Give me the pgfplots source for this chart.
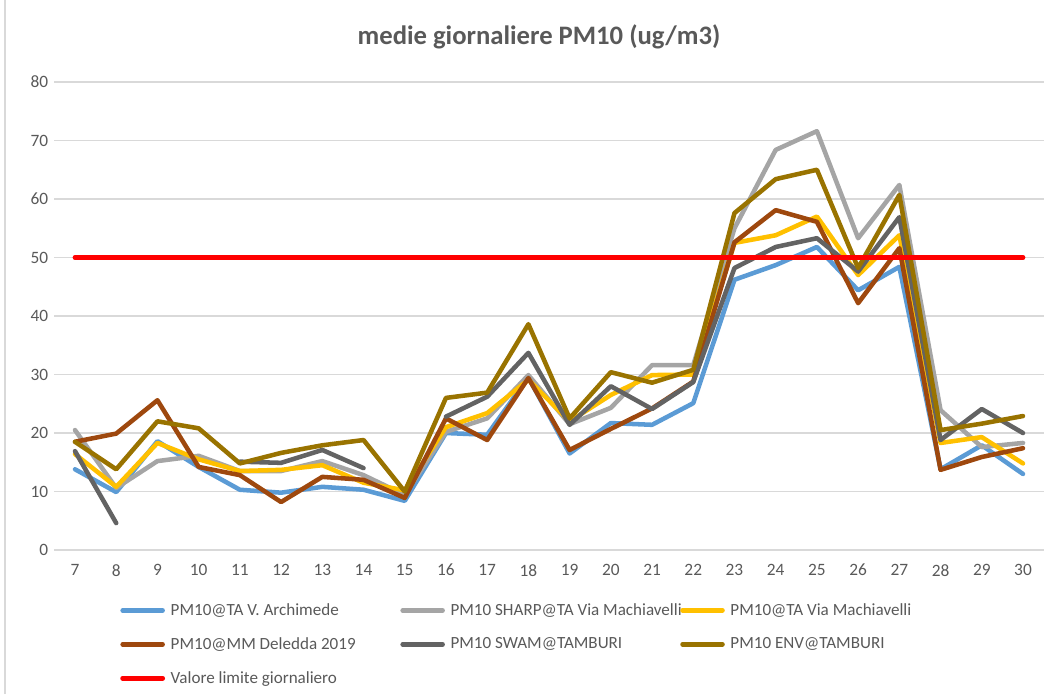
\documentclass[border=0pt]{standalone}
\usepackage{fontspec}
\setmainfont{Carlito}
\usepackage{pgfplots}
\pgfplotsset{compat=1.18}
\definecolor{txt}{HTML}{595959}
\definecolor{gridc}{HTML}{D9D9D9}
\definecolor{cblue}{HTML}{5B9BD5}
\definecolor{cgray}{HTML}{A5A5A5}
\definecolor{cyel}{HTML}{FFC000}
\definecolor{cbrown}{HTML}{9E480E}
\definecolor{cdgray}{HTML}{636363}
\definecolor{colive}{HTML}{997300}
\definecolor{cred}{HTML}{FF0000}
\begin{document}
\begin{tikzpicture}
\useasboundingbox (-40.8pt,-108pt) rectangle (748.95pt,412.5pt);
\draw[gridc, line width=0.8pt] (-37.05pt,-108pt) -- (-37.05pt,412.5pt);
\begin{axis}[
  at={(0,0)}, anchor=south west,
  scale only axis, width=741.9pt, height=351pt,
  xmin=6.5, xmax=30.5, ymin=0, ymax=80,
  xtick={7,...,30}, ytick={0,10,...,80},
  ymajorgrids, grid style={draw=gridc, line width=1pt},
  axis line style={draw=none},
  major tick length=0pt,
  /pgf/number format/assume math mode=true,
  ticklabel style={font=\fontsize{13}{15}\selectfont, text=txt},
  xticklabel style={anchor=north, inner sep=0pt, yshift=-10.5pt},
  yticklabel style={anchor=east, inner sep=0pt, xshift=-4.5pt},
  title={medie giornaliere PM10 (ug/m3)},
  title style={font=\fontsize{20}{24}\selectfont\bfseries, text=txt, at={(axis description cs:0.4899,1.079)}, anchor=center},
  unbounded coords=jump,
  every axis plot/.append style={line width=3.4pt, line join=round, line cap=round, mark=none},
  legend columns=3,
  legend image code/.code={\draw[#1] (0pt,0pt) -- (30pt,0pt);},
  legend style={draw=none, fill=none, at={(axis description cs:0.0663,-0.108)}, anchor=north west,
    inner sep=0pt, row sep=11pt, font=\fontsize{12.8}{14}\selectfont, text=txt,
    /tikz/every odd column/.append style={column sep=2.25pt}},
  legend cell align=left,
]
\addplot[cblue] coordinates {(7,13.8) (8,9.9) (9,18.6) (10,14.2) (11,10.3) (12,9.8) (13,10.8) (14,10.3) (15,8.4) (16,20.0) (17,19.7) (18,29.5) (19,16.5) (20,21.7) (21,21.4) (22,25.1) (23,46.2) (24,48.7) (25,51.8) (26,44.4) (27,48.4) (28,13.8) (29,17.9) (30,13.0)};
\addlegendentry{\makebox[170.25pt][l]{PM10@TA V. Archimede}}
\addplot[cgray] coordinates {(7,20.5) (8,10.6) (9,15.2) (10,16.1) (11,13.5) (12,13.5) (13,15.2) (14,12.8) (15,9.4) (16,20.2) (17,22.5) (18,29.9) (19,21.5) (20,24.3) (21,31.6) (22,31.6) (23,55.0) (24,68.4) (25,71.6) (26,53.3) (27,62.4) (28,23.9) (29,17.6) (30,18.3)};
\addlegendentry{\makebox[170.25pt][l]{PM10 SHARP@TA Via Machiavelli}}
\addplot[cyel] coordinates {(7,16.4) (8,10.8) (9,18.3) (10,15.5) (11,13.5) (12,13.7) (13,14.5) (14,11.5) (15,10.2) (16,21.0) (17,23.4) (18,29.1) (19,22.0) (20,26.5) (21,29.9) (22,30.0) (23,52.5) (24,53.8) (25,57.0) (26,47.0) (27,53.8) (28,18.3) (29,19.3) (30,14.8)};
\addlegendentry{PM10@TA Via Machiavelli}
\addplot[cbrown] coordinates {(7,18.5) (8,19.9) (9,25.6) (10,14.2) (11,12.8) (12,8.2) (13,12.5) (14,12.0) (15,8.9) (16,22.5) (17,18.8) (18,29.4) (19,17.1) (20,20.7) (21,24.2) (22,28.8) (23,52.6) (24,58.1) (25,56.1) (26,42.2) (27,51.6) (28,13.7) (29,15.9) (30,17.4)};
\addlegendentry{\makebox[170.25pt][l]{PM10@MM Deledda 2019}}
\addplot[cdgray] coordinates {(7,16.9) (8,4.6) (9,nan) (10,nan) (11,15.1) (12,14.9) (13,17.1) (14,14.0) (15,nan) (16,22.8) (17,26.2) (18,33.7) (19,21.4) (20,28.0) (21,24.1) (22,28.7) (23,48.2) (24,51.8) (25,53.3) (26,47.6) (27,56.9) (28,18.8) (29,24.1) (30,20.0)};
\addlegendentry{\makebox[170.25pt][l]{PM10 SWAM@TAMBURI}}
\addplot[colive] coordinates {(7,18.5) (8,13.8) (9,22.0) (10,20.8) (11,14.8) (12,16.6) (13,17.9) (14,18.8) (15,10.0) (16,26.0) (17,26.9) (18,38.6) (19,22.5) (20,30.4) (21,28.6) (22,30.8) (23,57.6) (24,63.4) (25,65.0) (26,48.2) (27,60.7) (28,20.5) (29,21.6) (30,22.9)};
\addlegendentry{PM10 ENV@TAMBURI}
\addplot[cred, line width=3.6pt] coordinates {(7,50) (8,50) (9,50) (10,50) (11,50) (12,50) (13,50) (14,50) (15,50) (16,50) (17,50) (18,50) (19,50) (20,50) (21,50) (22,50) (23,50) (24,50) (25,50) (26,50) (27,50) (28,50) (29,50) (30,50)};
\addlegendentry{Valore limite giornaliero}
\end{axis}
\end{tikzpicture}
\end{document}
